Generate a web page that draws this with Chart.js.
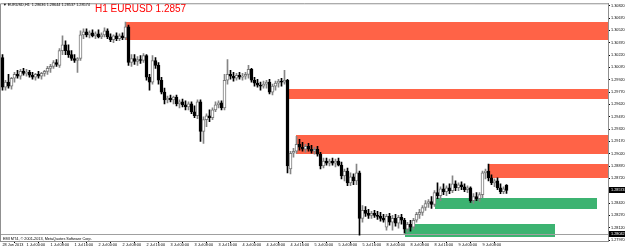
<!DOCTYPE html>
<html><head><meta charset="utf-8">
<script src="https://cdn.jsdelivr.net/npm/chart.js@4.4.0/dist/chart.umd.min.js"></script>
<style>html,body{margin:0;padding:0;background:#fff;overflow:hidden}#wrap{position:relative;width:625px;height:248px}</style>
</head><body><div id="wrap"><canvas id="c" width="625" height="248"></canvas></div>
<script>
const headerText = "\u25BC EURUSD,H1  1.28636 1.28644 1.28537 1.28574";
const titleText = "H1 EURUSD 1.2857";
const copyrightText = "EMI MT4, \u00A9 2001-2013, MetaQuotes Software Corp.";

const opens = [1.30190,1.29830,1.29890,1.29842,1.29938,1.29986,1.29962,1.30022,1.29998,1.30010,
1.29974,1.29950,1.29986,1.29962,1.29998,1.30022,1.30058,1.30082,1.30130,1.30094,
1.30274,1.30346,1.30274,1.30226,1.30178,1.30154,1.30178,1.30466,1.30502,1.30466,
1.30490,1.30454,1.30478,1.30442,1.30466,1.30514,1.30442,1.30406,1.30454,1.30418,
1.30454,1.30430,1.30562,1.30130,1.30178,1.30142,1.30166,1.30154,1.30214,1.29950,
1.29890,1.30154,1.30094,1.29914,1.29770,1.29674,1.29698,1.29674,1.29710,1.29626,
1.29650,1.29614,1.29590,1.29626,1.29530,1.29482,1.29650,1.29290,1.29434,1.29482,
1.29458,1.29554,1.29614,1.29638,1.29578,1.29914,1.29986,1.29962,1.29938,1.29974,
1.29950,1.29962,1.29986,1.30046,1.29914,1.29878,1.29854,1.29842,1.29866,1.29890,
1.29770,1.29842,1.29878,1.29902,1.29890,1.29914,1.28834,1.29026,1.29050,1.29134,
1.29098,1.29074,1.29110,1.29074,1.29050,1.29074,1.29014,1.28870,1.28930,1.28906,
1.28930,1.28906,1.28930,1.28882,1.28750,1.28810,1.28666,1.28738,1.28690,1.28786,
1.28234,1.28330,1.28294,1.28270,1.28294,1.28270,1.28258,1.28234,1.28126,1.28258,
1.28186,1.28234,1.28174,1.28246,1.28210,1.28102,1.28162,1.28126,1.28210,1.28282,
1.28306,1.28366,1.28414,1.28438,1.28402,1.28546,1.28510,1.28594,1.28558,1.28606,
1.28570,1.28654,1.28606,1.28642,1.28618,1.28582,1.28606,1.28450,1.28498,1.28474,
1.28522,1.28786,1.28810,1.28726,1.28666,1.28690,1.28606,1.28558,1.28636];

const highs = [1.30226,1.29914,1.29986,1.29950,1.30010,1.30034,1.30046,1.30058,1.30046,1.30034,
1.30010,1.29998,1.30022,1.30010,1.30034,1.30082,1.30106,1.30154,1.30166,1.30298,
1.30454,1.30394,1.30346,1.30274,1.30226,1.30190,1.30514,1.30538,1.30538,1.30514,
1.30526,1.30502,1.30526,1.30490,1.30550,1.30538,1.30478,1.30466,1.30490,1.30478,
1.30490,1.30622,1.30586,1.30226,1.30226,1.30202,1.30214,1.30238,1.30226,1.29986,
1.30214,1.30190,1.30130,1.29950,1.29818,1.29722,1.29734,1.29722,1.29734,1.29674,
1.29686,1.29662,1.29650,1.29650,1.29602,1.29674,1.29674,1.29470,1.29506,1.29554,
1.29578,1.29650,1.29662,1.29662,1.29986,1.30166,1.30034,1.30010,1.29998,1.30010,
1.29998,1.30010,1.30094,1.30058,1.29950,1.29926,1.29890,1.29902,1.29914,1.29926,
1.29866,1.29902,1.29926,1.29938,1.30034,1.29926,1.29050,1.29086,1.29230,1.29194,
1.29158,1.29134,1.29146,1.29122,1.29098,1.29110,1.29038,1.28966,1.28966,1.28954,
1.28966,1.28954,1.28966,1.28918,1.28834,1.28846,1.28786,1.28774,1.28894,1.28810,
1.28390,1.28378,1.28342,1.28318,1.28330,1.28318,1.28306,1.28282,1.28282,1.28294,
1.28270,1.28282,1.28270,1.28282,1.28234,1.28186,1.28210,1.28234,1.28306,1.28342,
1.28390,1.28450,1.28462,1.28498,1.28570,1.28666,1.28618,1.28654,1.28630,1.28654,
1.28750,1.28690,1.28666,1.28678,1.28654,1.28630,1.28618,1.28534,1.28546,1.28546,
1.28810,1.28834,1.28894,1.28762,1.28714,1.28726,1.28654,1.28618,1.28644];

const lows = [1.29794,1.29794,1.29818,1.29806,1.29890,1.29938,1.29926,1.29974,1.29962,1.29950,
1.29926,1.29914,1.29938,1.29926,1.29962,1.29986,1.30010,1.30058,1.30082,1.30070,
1.30226,1.30226,1.30190,1.30154,1.30130,1.30010,1.30154,1.30418,1.30442,1.30430,
1.30442,1.30418,1.30430,1.30418,1.30442,1.30418,1.30382,1.30370,1.30394,1.30394,
1.30406,1.30406,1.30094,1.30082,1.30106,1.30094,1.30118,1.30130,1.29914,1.29794,
1.29866,1.30058,1.29866,1.29746,1.29626,1.29638,1.29650,1.29626,1.29602,1.29578,
1.29590,1.29554,1.29554,1.29506,1.29458,1.29446,1.29170,1.29146,1.29350,1.29410,
1.29434,1.29530,1.29578,1.29554,1.29554,1.29866,1.29926,1.29902,1.29914,1.29926,
1.29914,1.29926,1.29938,1.29890,1.29842,1.29830,1.29794,1.29818,1.29818,1.29746,
1.29734,1.29794,1.29830,1.29842,1.29866,1.28786,1.28774,1.28978,1.29026,1.29062,
1.29050,1.29038,1.29050,1.29026,1.29014,1.28990,1.28834,1.28846,1.28882,1.28870,
1.28882,1.28858,1.28870,1.28714,1.28690,1.28630,1.28630,1.28642,1.28642,1.28030,
1.28186,1.28258,1.28234,1.28234,1.28246,1.28222,1.28198,1.28186,1.28090,1.28150,
1.28090,1.28138,1.28114,1.28162,1.28054,1.28066,1.28078,1.28102,1.28186,1.28234,
1.28270,1.28330,1.28366,1.28354,1.28378,1.28474,1.28450,1.28522,1.28510,1.28534,
1.28546,1.28570,1.28570,1.28582,1.28558,1.28546,1.28426,1.28414,1.28450,1.28438,
1.28486,1.28714,1.28690,1.28642,1.28618,1.28582,1.28534,1.28534,1.28537];

const closes = [1.29830,1.29890,1.29842,1.29938,1.29986,1.29962,1.30022,1.29998,1.30010,1.29974,
1.29950,1.29986,1.29962,1.29998,1.30022,1.30058,1.30082,1.30130,1.30106,1.30274,
1.30346,1.30274,1.30226,1.30178,1.30154,1.30178,1.30466,1.30502,1.30466,1.30490,
1.30454,1.30478,1.30442,1.30466,1.30514,1.30442,1.30406,1.30454,1.30418,1.30454,
1.30430,1.30562,1.30130,1.30178,1.30142,1.30166,1.30154,1.30214,1.29950,1.29890,
1.30154,1.30094,1.29914,1.29770,1.29674,1.29698,1.29674,1.29710,1.29626,1.29650,
1.29614,1.29590,1.29626,1.29530,1.29482,1.29650,1.29290,1.29434,1.29482,1.29458,
1.29554,1.29614,1.29638,1.29578,1.29914,1.29986,1.29962,1.29938,1.29974,1.29950,
1.29962,1.29986,1.30046,1.29914,1.29878,1.29854,1.29842,1.29866,1.29890,1.29770,
1.29842,1.29878,1.29902,1.29890,1.29914,1.28870,1.29026,1.29050,1.29134,1.29098,
1.29074,1.29110,1.29074,1.29050,1.29074,1.29014,1.28870,1.28930,1.28906,1.28930,
1.28906,1.28930,1.28882,1.28750,1.28810,1.28666,1.28738,1.28690,1.28786,1.28234,
1.28330,1.28294,1.28270,1.28294,1.28270,1.28258,1.28234,1.28210,1.28258,1.28186,
1.28234,1.28174,1.28246,1.28210,1.28102,1.28162,1.28126,1.28210,1.28282,1.28306,
1.28366,1.28414,1.28438,1.28402,1.28546,1.28510,1.28594,1.28558,1.28606,1.28570,
1.28654,1.28606,1.28642,1.28618,1.28582,1.28606,1.28450,1.28498,1.28474,1.28522,
1.28786,1.28810,1.28726,1.28666,1.28690,1.28606,1.28558,1.28594,1.28574];

const timeTickIndex = [0,8,16,24,32,40,48,56,64,72,80,88,96,104,112,120,128,136,144,152,160];
const timeTickLabels = ["28 Jun 2013","1 Jul 00:00","1 Jul 08:00","1 Jul 16:00","2 Jul 00:00","2 Jul 08:00","2 Jul 16:00","3 Jul 00:00","3 Jul 08:00","3 Jul 16:00","4 Jul 00:00","4 Jul 08:00","4 Jul 16:00","5 Jul 00:00","5 Jul 08:00","5 Jul 16:00","8 Jul 00:00","8 Jul 08:00","8 Jul 16:00","9 Jul 00:00","9 Jul 08:00"];
const priceTicks = [1.27970,1.28120,1.28270,1.28420,1.28720,1.28870,1.29020,1.29170,1.29320,1.29470,1.29620,1.29770,1.29920,1.30070,1.30220,1.30370,1.30520,1.30670,1.30820];

const zoneKind  = ["supply","supply","supply","supply","demand","demand"];
const zoneStart = [41, 95, 98, 162, 144, 134];
const zoneEnd   = [202, 202, 202, 202, 198.3, 184.3];
const zoneHigh  = [1.30622, 1.29806, 1.29242, 1.28894, 1.28486, 1.28162];
const zoneLow   = [1.30406, 1.29686, 1.29014, 1.28726, 1.28342, 1.28006];

const bidPrice = 1.28574;
const lineLevel = 1.28042;

const priceMin = 1.27958, priceMax = 1.30850;
const indexMin = -0.8333, indexMax = 201.8333;

const idx = opens.map((_, i) => i);
const bull = idx.map(i => closes[i] >= opens[i]);
const FONT = '"Liberation Sans", Arial, sans-serif';

const overlay = {
  id: 'mt4',
  beforeDatasetsDraw(chart) {
    const {ctx, chartArea: a, scales: {x, y}} = chart;
    ctx.save();
    ctx.beginPath(); ctx.rect(a.left, a.top, a.right - a.left, a.bottom - a.top); ctx.clip();
    zoneStart.forEach((s, k) => {
      const x1 = Math.round(x.getPixelForValue(s)), x2 = Math.round(x.getPixelForValue(zoneEnd[k]));
      const y1 = Math.round(y.getPixelForValue(zoneHigh[k])), y2 = Math.round(y.getPixelForValue(zoneLow[k]));
      ctx.fillStyle = zoneKind[k] === 'supply' ? '#FF6347' : '#3CB371';
      ctx.fillRect(x1, y1, x2 - x1, y2 - y1);
    });
    const yl = Math.round(y.getPixelForValue(lineLevel)) + 0.5;
    ctx.strokeStyle = '#a0a0a0'; ctx.lineWidth = 1;
    ctx.beginPath(); ctx.moveTo(a.left, yl); ctx.lineTo(a.right, yl); ctx.stroke();
    ctx.restore();
  },
  afterDraw(chart) {
    const {ctx, chartArea: a, scales: {y}} = chart;
    ctx.save();
    ctx.strokeStyle = '#909090'; ctx.lineWidth = 1;
    ctx.beginPath();
    ctx.moveTo(a.left + 0.5, a.bottom); ctx.lineTo(a.left + 0.5, a.top + 0.5); ctx.lineTo(a.right, a.top + 0.5);
    ctx.stroke();
    const box = (p) => {
      const yc = Math.round(y.getPixelForValue(p));
      ctx.fillStyle = '#000';
      ctx.fillRect(a.right + 1, yc - 3, 16, 6);
      ctx.fillStyle = '#fff';
      ctx.font = '3.8px ' + FONT; ctx.textBaseline = 'middle'; ctx.textAlign = 'left';
      ctx.fillText(p.toFixed(5), a.right + 3, yc);
    };
    box(bidPrice);
    box(lineLevel);
    ctx.fillStyle = '#000'; ctx.textAlign = 'left'; ctx.textBaseline = 'alphabetic';
    ctx.font = '3.8px ' + FONT;
    ctx.fillText(headerText, 3, 6);
    ctx.fillText(copyrightText, 3, 239.5);
    ctx.fillStyle = '#FF0000';
    ctx.font = '10px ' + FONT;
    ctx.fillText(titleText, 95, 11.5);
    ctx.restore();
  }
};

new Chart(document.getElementById('c'), {
  type: 'bar',
  data: {
    datasets: [
      {
        label: 'body',
        data: idx.map(i => ({x: i, y: [opens[i], closes[i]]})),
        backgroundColor: idx.map(i => bull[i] ? '#ffffff' : '#000000'),
        borderColor: idx.map(i => bull[i] ? '#7a7a7a' : '#000000'),
        borderWidth: 1, borderSkipped: false,
        barThickness: 3, grouped: false, order: 0
      },
      {
        label: 'wick',
        data: idx.map(i => ({x: i, y: [lows[i], highs[i]]})),
        backgroundColor: idx.map(i => bull[i] ? '#858585' : '#000000'),
        borderWidth: 0,
        barThickness: 1, grouped: false, order: 1
      }
    ]
  },
  options: {
    responsive: false, animation: false, devicePixelRatio: 1,
    layout: {padding: 0},
    plugins: {legend: {display: false}, tooltip: {enabled: false}, title: {display: false}},
    scales: {
      x: {
        type: 'linear', min: indexMin, max: indexMax, offset: false,
        afterBuildTicks: s => { s.ticks = timeTickIndex.map(v => ({value: v})); },
        afterFit: s => { s.height = 7; },
        ticks: {autoSkip: false, maxRotation: 0, minRotation: 0, align: 'start', padding: 0,
          font: {family: FONT, size: 3.8}, color: '#000',
          callback: (v, k) => timeTickLabels[k]},
        grid: {drawOnChartArea: false, drawTicks: true, tickLength: 2, color: '#000'},
        border: {display: true, color: '#909090'}
      },
      y: {
        type: 'linear', position: 'right', min: priceMin, max: priceMax,
        afterBuildTicks: s => { s.ticks = priceTicks.map(v => ({value: v})); },
        afterFit: s => { s.width = 17; },
        ticks: {padding: 1, font: {family: FONT, size: 3.8}, color: '#000', callback: v => v.toFixed(5)},
        grid: {drawOnChartArea: false, drawTicks: true, tickLength: 2, color: '#000'},
        border: {display: true, color: '#909090'}
      }
    }
  },
  plugins: [overlay]
});
</script></body></html>
